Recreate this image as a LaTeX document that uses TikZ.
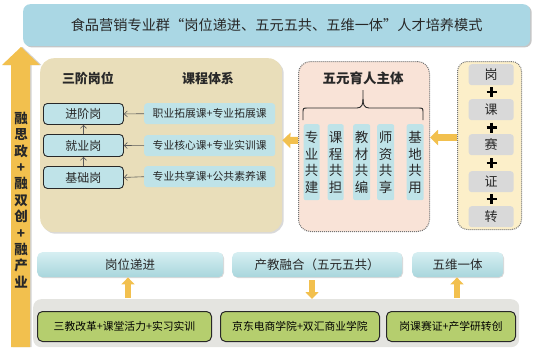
\documentclass[tikz,border=0pt]{standalone}
\usepackage{fontspec}
\setmainfont{Noto Sans CJK SC}
\usetikzlibrary{shadows,arrows.meta,calc}
\definecolor{titlebl}{RGB}{170,215,228}
\definecolor{yarrow}{RGB}{242,192,78}
\definecolor{tanbg}{RGB}{233,222,186}
\definecolor{lblue}{RGB}{191,227,232}
\definecolor{pinkbg}{RGB}{249,227,215}
\definecolor{ylbg}{RGB}{252,239,201}
\definecolor{greybox}{RGB}{217,217,217}
\definecolor{greenbox}{RGB}{181,206,110}
\definecolor{panelbg}{RGB}{228,228,224}
\definecolor{txt}{RGB}{40,40,40}
\definecolor{btop}{RGB}{214,239,242}
\definecolor{bbot}{RGB}{168,214,220}
\tikzset{
  box/.style={rectangle, anchor=north west, inner sep=0pt, text=txt},
  lbox/.style={box, fill=lblue, draw=txt, line width=0.9pt, rounded corners=4pt, font=\fontsize{12}{12}\selectfont},
  rbox/.style={box, fill=lblue, rounded corners=3pt, font=\fontsize{10.8}{11}\selectfont},
  vbox/.style={box, fill=lblue, rounded corners=2pt, align=center, font=\fontsize{13.5}{16.5}\selectfont},
  gbox/.style={box, fill=greybox, rounded corners=3pt, font=\fontsize{13}{13}\selectfont},
  bluebar/.style={box, top color=btop, bottom color=bbot, rounded corners=5pt, font=\fontsize{12.5}{13}\selectfont, drop shadow={shadow xshift=0.8pt, shadow yshift=-0.8pt, opacity=0.3}},
  greenb/.style={box, fill=greenbox, draw=txt, line width=1pt, rounded corners=5pt, font=\fontsize{10.8}{11}\selectfont, text=black},
  thinarrow/.style={draw=black!65, line width=0.6pt, -{Straight Barb[length=3pt,width=6pt]}},
  hblock/.style={draw=yarrow, line width=7pt, -{Triangle[length=8pt,width=15pt]}},
  vblock/.style={draw=yarrow, line width=6pt, -{Triangle[length=7pt,width=13pt]}},
  plusmark/.style={line width=2.6pt, draw=black},
}
\begin{document}
\begin{tikzpicture}[x=1pt,y=-1pt]
\useasboundingbox (0,0) rectangle (550,354);
% title
\node[box, fill=titlebl, rounded corners=7pt, minimum width=507pt, minimum height=42pt,
  drop shadow={shadow xshift=1.5pt, shadow yshift=-1.2pt, opacity=0.45},
  font=\fontsize{14.2}{15}\selectfont] (title) at (23,4)
  {食品营销专业群“岗位递进、五元五共、五维一体”人才培养模式};
% big side arrow
\path[fill=yarrow, drop shadow={shadow xshift=1.5pt, shadow yshift=0pt, opacity=0.35}]
  (11,347) -- (11,65) -- (2,65) -- (21,47) -- (40,65) -- (30,65) -- (30,347) -- cycle;
\node[align=center, inner sep=0pt, text=txt, font=\bfseries\fontsize{13.5}{16.4}\selectfont] (side) at (21,200)
  {融\\思\\政\\+\\融\\双\\创\\+\\融\\产\\业};
% tan box
\node[box, fill=tanbg, rounded corners=14pt, minimum width=242pt, minimum height=174pt,
  drop shadow={shadow xshift=1.5pt, shadow yshift=-1.5pt, opacity=0.3}] (tan) at (40,58) {};
\node[text=txt, font=\bfseries\fontsize{13}{13}\selectfont] (h1) at (88,78) {三阶岗位};
\node[text=txt, font=\bfseries\fontsize{13}{13}\selectfont] (h2) at (208,78) {课程体系};
\node[lbox, minimum width=80pt, minimum height=21pt] (l1) at (43,103) {进阶岗};
\node[lbox, minimum width=80pt, minimum height=22pt] (l2) at (43,134) {就业岗};
\node[lbox, minimum width=80pt, minimum height=22pt] (l3) at (43,166) {基础岗};
\node[rbox, minimum width=131pt, minimum height=21pt] (r1) at (144,103) {职业拓展课+专业拓展课};
\node[rbox, minimum width=131pt, minimum height=21pt] (r2) at (144,135) {专业核心课+专业实训课};
\node[rbox, minimum width=131pt, minimum height=21pt] (r3) at (144,166) {专业共享课+公共素养课};
\draw[thinarrow] (r1.west) -- (l1.east);
\draw[thinarrow] (r2.west) -- (l2.east);
\draw[thinarrow] (r3.west) -- (l3.east);
\draw[thinarrow] (l3.north) -- (l2.south);
\draw[thinarrow] (l2.north) -- (l1.south);
% pink box
\node[box, fill=pinkbg, draw=black!55, densely dotted, line width=1pt, rounded corners=12pt,
  minimum width=131pt, minimum height=170pt] (pink) at (298,61) {};
\node[text=txt, font=\bfseries\fontsize{13.5}{14}\selectfont] (h3) at (363,78) {五元育人主体};
\draw[txt, line width=0.9pt]
  (303,120) -- (303,113) .. controls (303,108) .. (308,108) -- (357,108)
  .. controls (362,108) and (363,104) .. (363,99) -- (363,90);
\draw[txt, line width=0.9pt]
  (423,120) -- (423,113) .. controls (423,108) .. (418,108) -- (369,108)
  .. controls (364,108) and (363,104) .. (363,99);
\node[vbox, minimum width=16pt, minimum height=76pt] (c1) at (303.5,124) {专\\业\\共\\建};
\node[vbox, minimum width=16pt, minimum height=76pt] (c2) at (327.5,124) {课\\程\\共\\担};
\node[vbox, minimum width=17pt, minimum height=76pt] (c3) at (353,124) {教\\材\\共\\编};
\node[vbox, minimum width=17pt, minimum height=76pt] (c4) at (377,124) {师\\资\\共\\享};
\node[vbox, minimum width=17pt, minimum height=76pt] (c5) at (406.5,124) {基\\地\\共\\用};
% yellow box
\node[box, fill=ylbg, draw=black!55, densely dotted, line width=1pt, rounded corners=10pt,
  minimum width=64pt, minimum height=168pt] (ybox) at (457,61) {};
\node[gbox, minimum width=45pt, minimum height=21pt] (g1) at (468.5,64) {岗};
\node[gbox, minimum width=45pt, minimum height=21pt] (g2) at (468.5,99) {课};
\node[gbox, minimum width=45pt, minimum height=21pt] (g3) at (468.5,134) {赛};
\node[gbox, minimum width=45pt, minimum height=21pt] (g4) at (468.5,171) {证};
\node[gbox, minimum width=45pt, minimum height=21pt] (g5) at (468.5,206) {转};
\foreach \yy in {92,127.5,163,199}{
  \draw[plusmark] (486.5,\yy) -- (496.5,\yy);
  \draw[plusmark] (491.5,\yy-5) -- (491.5,\yy+5);
}
% horizontal block arrows
\coordinate (a1s) at ($(pink.west)+(0,-6)$);
\coordinate (a1e) at ($(tan.east)+(0,-5)$);
\draw[hblock] (a1s) -- (a1e -| tan.east);
\coordinate (a2s) at ($(ybox.west)+(0,-8)$);
\draw[hblock] (a2s) -- (a2s -| pink.east);
% bottom bars
\node[bluebar, minimum width=186pt, minimum height=25pt] (b1) at (37,252) {岗位递进};
\node[bluebar, minimum width=170pt, minimum height=25pt] (b2) at (232,252) {产教融合（五元五共）};
\node[bluebar, minimum width=91pt, minimum height=25pt] (b3) at (412,252) {五维一体};
% panel
\node[box, fill=panelbg, rounded corners=8pt, minimum width=486pt, minimum height=48pt] (panel) at (33,299) {};
\node[greenb, minimum width=174pt, minimum height=30pt] (e1) at (37,311) {三教改革+课堂活力+实习实训};
\node[greenb, minimum width=159pt, minimum height=30pt] (e2) at (220,311) {京东电商学院+双汇商业学院};
\node[greenb, minimum width=129pt, minimum height=30pt] (e3) at (386,311) {岗课赛证+产学研转创};
% vertical block arrows
\coordinate (v1) at (128,298);
\draw[vblock] (v1) -- (v1 |- b1.south);
\coordinate (v2) at (312,280);
\draw[vblock] (v2) -- (v2 |- panel.north);
\coordinate (v3) at (457,298);
\draw[vblock] (v3) -- (v3 |- b3.south);
\end{tikzpicture}
\end{document}
